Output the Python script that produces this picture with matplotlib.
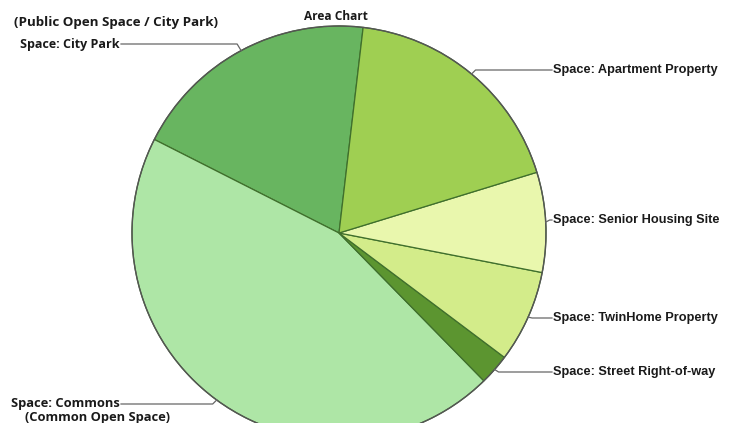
import numpy as np
import matplotlib
matplotlib.use("Agg")
import matplotlib.pyplot as plt

# Data (share of area)
spaces = ["City Park", "Commons", "Street Right-of-way", "TwinHome Property",
          "Senior Housing Site", "Apartment Property"]
shares = [19.4, 44.8, 2.4, 7.2, 7.8, 18.4]
colors = ["#68b560", "#aee6a6", "#5c9530", "#d3ec8a", "#e9f7ad", "#9fcf52"]

# Figure in pixel-like layout: pie radius 1 == 207 px, centre at (339, 233)
W, H = 752, 423
CX, CY, R = 339, 233, 207


def px(x, y):
    return (x - CX) / R, (CY - y) / R


fig = plt.figure(figsize=(W / 100, H / 100), dpi=100)
ax = fig.add_axes([0, 0, 1, 1])
x0, y1 = px(0, 0)
x1, y0 = px(W, H)

wedges, _ = ax.pie(shares, colors=colors, startangle=83.3, counterclock=True,
                   radius=1, center=(0, 0),
                   wedgeprops=dict(edgecolor="#3f6f2c", linewidth=0.9))
ax.set_xlim(x0, x1)
ax.set_ylim(y0, y1)
ax.set_aspect("equal")
ax.axis("off")

# outer rim
rim = plt.Circle((0, 0), 1, fill=False, edgecolor="#555555", linewidth=1.0)
ax.add_patch(rim)

# label placement (text y in px)
label_y = {"City Park": 44, "Commons": 404, "Street Right-of-way": 372,
           "TwinHome Property": 318, "Senior Housing Site": 220,
           "Apartment Property": 70}
right_x = 553
left_end = 121

segoe = ["Open Sans", "DejaVu Sans"]
arial = ["Liberation Sans", "DejaVu Sans"]

for w, name in zip(wedges, spaces):
    mid = np.deg2rad((w.theta1 + w.theta2) / 2)
    ex, ey = np.cos(mid), np.sin(mid)
    ty = px(0, label_y[name])[1]
    if ex > 0:
        elbow = ex + 4 / R
        end = px(right_x - 1, 0)[0]
    else:
        elbow = ex - 4 / R
        end = px(left_end, 0)[0]
    ax.plot([ex, elbow, end], [ey, ty, ty], color="#666666", linewidth=0.9)
    if ex > 0:
        ax.text(px(right_x, 0)[0], ty, "Space: " + name, ha="left", va="center",
                fontsize=9.2, fontweight="bold", family=arial, color="#1a1a1a")

# left-hand labels
tx, ty = px(left_end - 1, 44)
ax.text(tx, ty, "Space: City Park", ha="right", va="center", fontsize=9.0,
        fontweight="bold", family=segoe, color="#1a1a1a")
tx, ty = px(14, 22)
ax.text(tx, ty, "(Public Open Space / City Park)", ha="left", va="center",
        fontsize=9.6, fontweight="bold", family=segoe, color="#1a1a1a")
tx, ty = px(left_end - 1, 404)
ax.text(tx, ty, "Space: Commons", ha="right", va="center", fontsize=9.3,
        fontweight="bold", family=segoe, color="#1a1a1a")
tx, ty = px(25, 418)
ax.text(tx, ty, "(Common Open Space)", ha="left", va="center", fontsize=9.3,
        fontweight="bold", family=segoe, color="#1a1a1a")

# title
tx, ty = px(336, 16)
ax.text(tx, ty, "Area Chart", ha="center", va="center", fontsize=8.6,
        fontweight="bold", family=segoe, color="#1a1a1a")

fig.savefig("out.png", dpi=100)
